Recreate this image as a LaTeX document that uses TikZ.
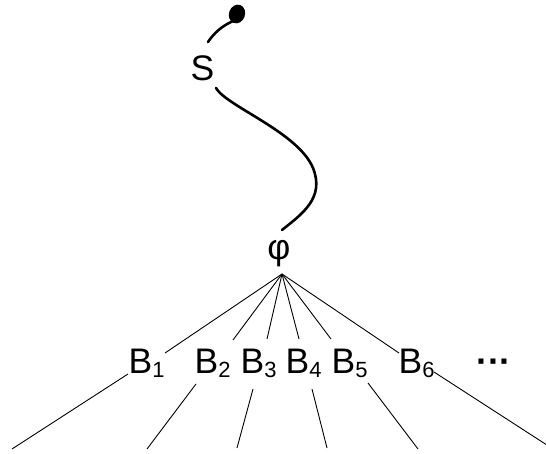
\documentclass[tikz,border=0pt]{standalone}
\usepackage{fontspec}
\setmainfont{Liberation Sans}
\usetikzlibrary{shapes.geometric}
\newcommand{\bsub}[1]{\raisebox{-4.5pt}{\fontsize{22}{22}\selectfont #1}}
\begin{document}
\begin{tikzpicture}[x=1pt,y=-1pt,
  lbl/.style={inner sep=0pt,font=\fontsize{35.5}{40}\selectfont},
  blbl/.style={lbl,anchor=base west},
  thick curve/.style={line width=2.6pt,line cap=round},
  thin line/.style={line width=0.9pt}]
\useasboundingbox (0,0) rectangle (546,454);
% nodes
\node[fill=black,ellipse,minimum width=16pt,minimum height=19pt,inner sep=0pt,rotate=-20] (dot) at (237,14) {};
\node[lbl,anchor=base west] (S) at (190.5,81) {S};
\node[lbl] (phi) at (279,253.5) {φ};
\node[blbl] (b1) at (128.5,373) {B\bsub{1}};
\node[blbl] (b2) at (194.5,373) {B\bsub{2}};
\node[blbl] (b3) at (240.5,373) {B\bsub{3}};
\node[blbl] (b4) at (285.5,373) {B\bsub{4}};
\node[blbl] (b5) at (331.5,373) {B\bsub{5}};
\node[blbl] (b6) at (398.5,373) {B\bsub{6}};
\node[blbl,font=\fontsize{35.5}{40}\selectfont\bfseries] (dots) at (476,373) {···};
% connector ends
\coordinate (dotend) at (233,21);
\coordinate (Stop) at (208,42);
\coordinate (Sbot) at (216,88);
\coordinate (phitop) at (282,230);
\coordinate (apex) at (282,274);
\coordinate (u1) at (165,353);
\coordinate (u2) at (233,340);
\coordinate (u3) at (267,339);
\coordinate (u4) at (299,339);
\coordinate (u5) at (331,339);
\coordinate (u6) at (399,353);
\coordinate (l1a) at (128,374);
\coordinate (l1b) at (12,449);
\coordinate (l2a) at (196,384);
\coordinate (l2b) at (147,449);
\coordinate (l3a) at (253,389);
\coordinate (l3b) at (237,448);
\coordinate (l4a) at (312,389);
\coordinate (l4b) at (327,448);
\coordinate (l5a) at (368,383);
\coordinate (l5b) at (418,449);
\coordinate (l6a) at (434,372);
\coordinate (l6b) at (550,447);
% curves
\draw[thick curve] (dotend) .. controls (222,26) and (214,33) .. (Stop);
\draw[thick curve] (Sbot) .. controls (226,106) and (298,132) .. (313,168)
   .. controls (325,198) and (302,214) .. (phitop);
% lines
\foreach \i in {1,...,6} \draw[thin line] (apex) -- (u\i);
\foreach \i in {1,...,6} \draw[thin line] (l\i a) -- (l\i b);
\end{tikzpicture}
\end{document}
